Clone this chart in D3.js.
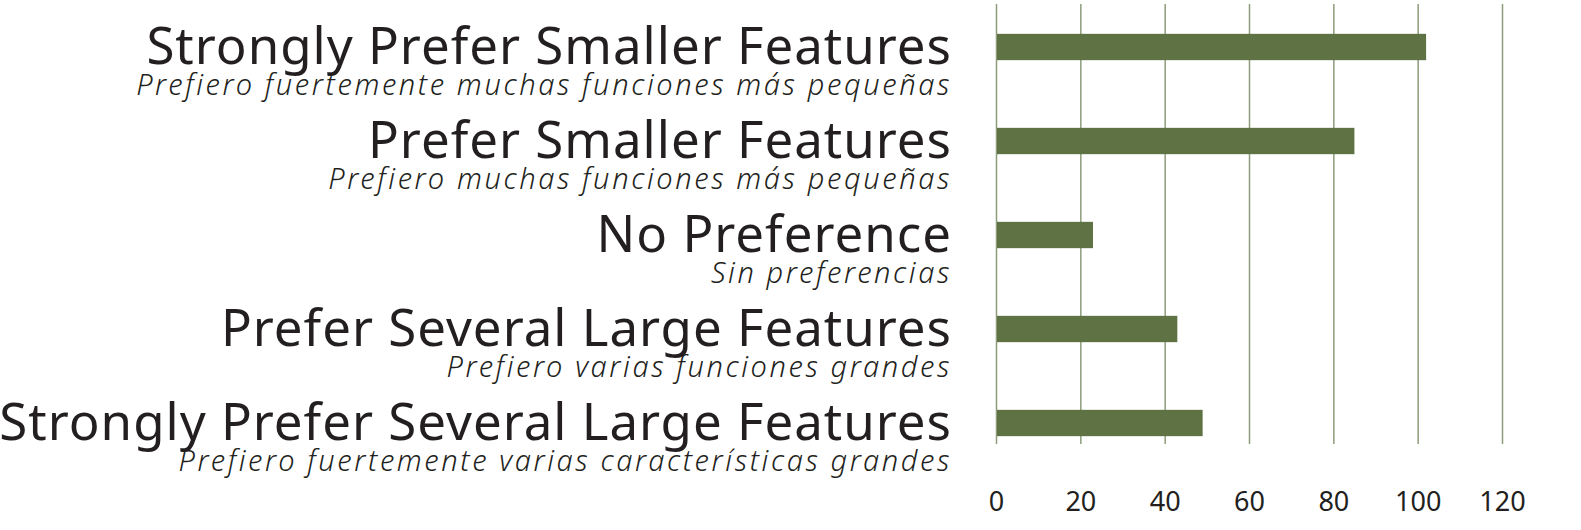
<!DOCTYPE html>
<html>
<head>
<meta charset="utf-8">
<script src="https://cdn.jsdelivr.net/npm/d3@7"></script>
<style>
  body { margin: 0; background: #fff; }
  text { font-family: "Noto Sans", "Open Sans", sans-serif; fill: #231f20; }
</style>
</head>
<body>
<svg id="chart" width="1581" height="530"></svg>
<script>
// categories, top to bottom
const labels = [
  "Strongly Prefer Smaller Features",
  "Prefer Smaller Features",
  "No Preference",
  "Prefer Several Large Features",
  "Strongly Prefer Several Large Features"
];
const subLabels = [
  "Prefiero fuertemente muchas funciones más pequeñas",
  "Prefiero muchas funciones más pequeñas",
  "Sin preferencias",
  "Prefiero varias funciones grandes",
  "Prefiero fuertemente varias características grandes"
];
const counts = [102, 85, 23, 43, 49];
const ticks = [0, 20, 40, 60, 80, 100, 120];

const svg = d3.select('#chart');
const barColor = '#5f7243';
const gridColor = '#8c9c7a';

// scales
const x = d3.scaleLinear().domain([0, 120]).range([996, 1502]);
const y = d3.scaleBand().domain(labels).range([0, 470]).paddingInner(0.72).paddingOuter(0.36);

// gridlines + tick labels through the axis
const axisG = svg.append('g').attr('transform', 'translate(0,444)')
  .call(d3.axisBottom(x).tickValues(ticks).tickSize(-440).tickPadding(48).tickFormat(d3.format('d')));
axisG.select('.domain').remove();
axisG.selectAll('.tick line').attr('stroke', gridColor).attr('stroke-width', 1.5);
axisG.selectAll('.tick text')
  .attr('font-size', 27)
  .style('font-family', '"Noto Sans", sans-serif')
  .attr('fill', '#231f20');

// bars
svg.append('g').selectAll('rect')
  .data(counts)
  .join('rect')
  .attr('x', x(0) + 1)
  .attr('y', (d, i) => y(labels[i]))
  .attr('width', d => x(d) - x(0) - 1)
  .attr('height', y.bandwidth())
  .attr('fill', barColor);

// labels, english on top and spanish in italics below
const labelG = svg.append('g').selectAll('g')
  .data(labels)
  .join('g')
  .attr('transform', d => `translate(952,${y(d) + y.bandwidth() / 2})`);

labelG.append('text')
  .attr('text-anchor', 'end')
  .attr('y', 17)
  .attr('font-size', 51)
  .attr('letter-spacing', 1)
  .text(d => d);

labelG.append('text')
  .attr('text-anchor', 'end')
  .attr('y', 48)
  .attr('font-size', 29)
  .attr('font-weight', 300)
  .attr('font-style', 'italic')
  .attr('letter-spacing', 2.6)
  .text((d, i) => subLabels[i]);
</script>
</body>
</html>
